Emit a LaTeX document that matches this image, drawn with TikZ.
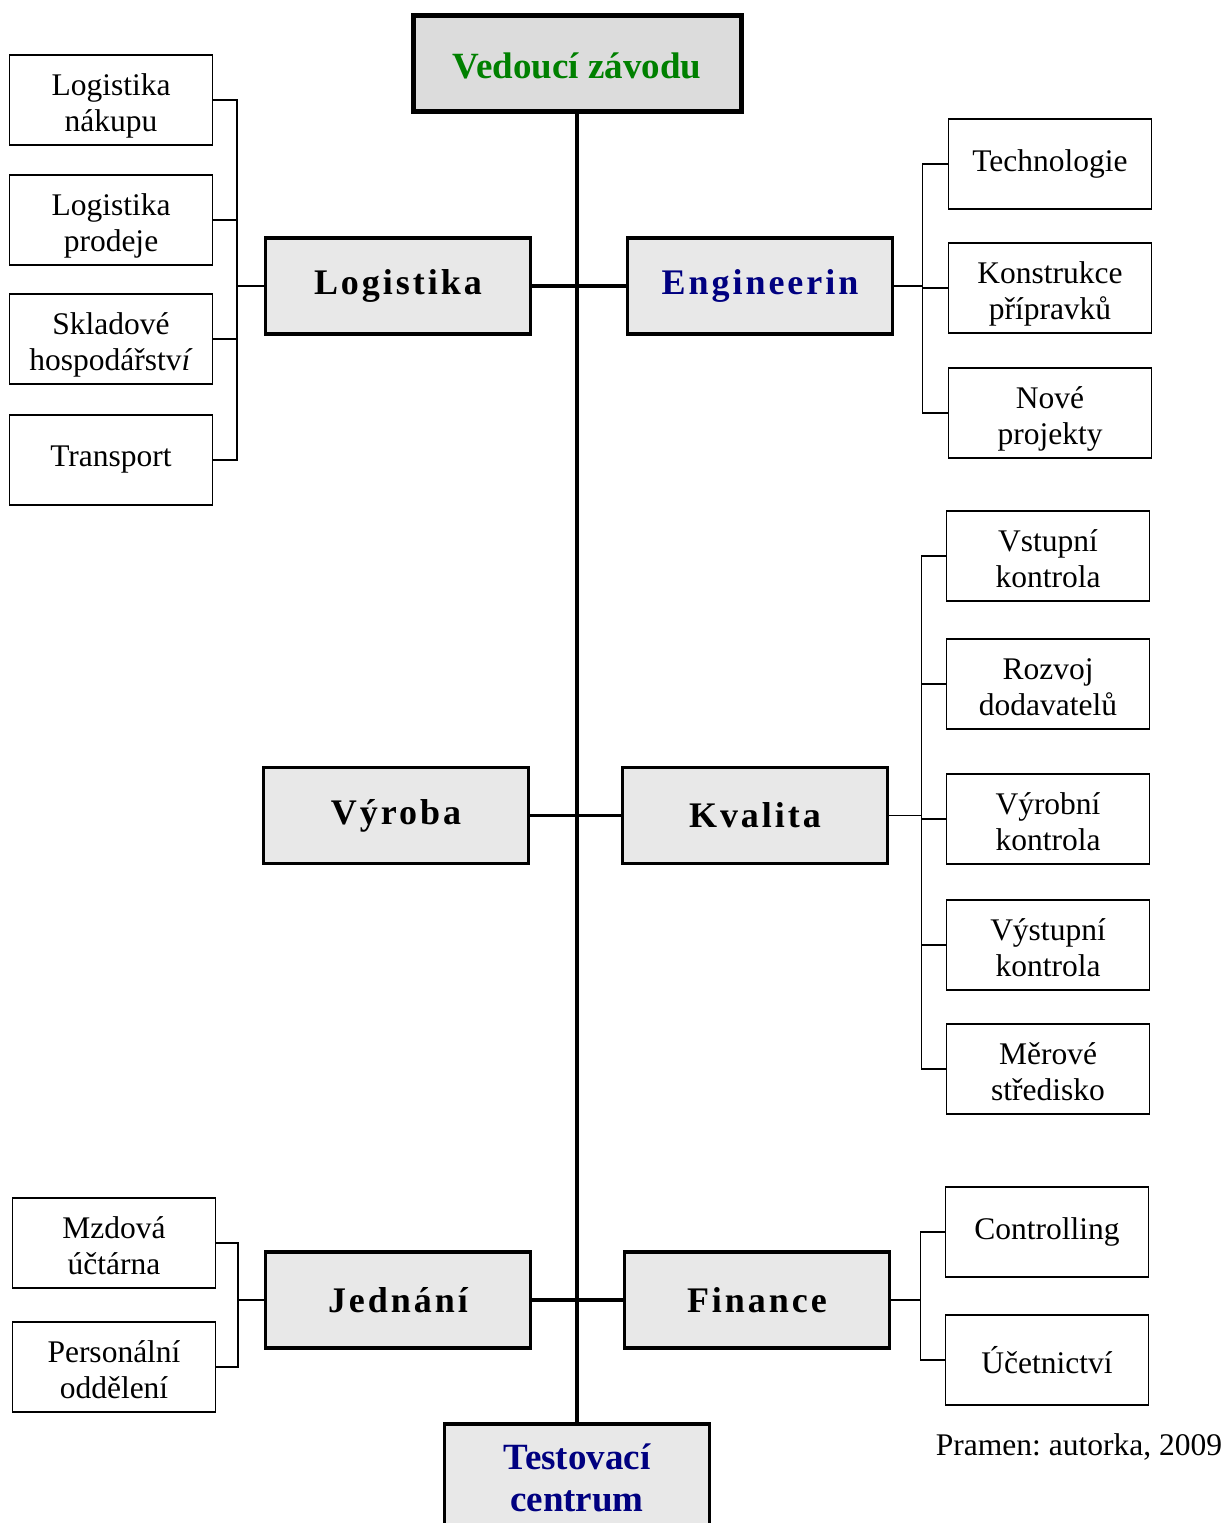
\documentclass[tikz,border=0pt]{standalone}
\usepackage{fontspec}
\setmainfont{Liberation Serif}
\newfontfamily\spacedfont[LetterSpace=8.3]{Liberation Serif}
\usepackage{tikz}
\usetikzlibrary{positioning,calc}
\definecolor{topgray}{HTML}{DCDCDC}
\definecolor{deptgray}{HTML}{E8E8E8}
\definecolor{bossgreen}{HTML}{008000}
\definecolor{deptnavy}{HTML}{000080}
\frenchspacing

\begin{document}
\begin{tikzpicture}[x=0.5pt,y=-0.5pt,
  boss/.style={
    draw, line width=2.5pt, fill=topgray, inner sep=0pt,
    minimum width=164pt, minimum height=48pt,
    text height=16pt, text depth=0.5pt,
    font=\fontsize{18.5}{21}\selectfont\bfseries, text=bossgreen
  },
  dept/.style={
    draw, line width=1.75pt, fill=deptgray, inner sep=0pt,
    minimum width=132.5pt, minimum height=48pt,
    font=\spacedfont\fontsize{18}{21}\selectfont\bfseries
  },
  sub/.style={
    draw, line width=0.75pt, inner sep=0pt, align=center,
    minimum width=101.5pt, minimum height=45pt,
    font=\fontsize{15.75}{18}\selectfont
  },
  sub2/.style={sub, text height=31.5pt, text depth=0pt},
  trunk/.style={line width=2pt},
  link/.style={line width=1.75pt},
  branch/.style={line width=0.75pt},
]
\clip (0,0) rectangle (1227,1523);
% head and main departments
\node[boss] (top) at (577,63) {Vedoucí závodu};
\node[dept] (logist) at (398,286) {Logistika};
\node[dept,text=deptnavy] (engin) at (760,286) {Engineerin};
\node[dept] (vyroba) at (396,815.5) {Výroba};
\node[dept] (kval) at (755,815.5) {Kvalita};
\node[dept] (jedn) at (398,1300) {Jednání};
\node[dept] (fin) at (757,1300) {Finance};
\node[dept,align=center,text=deptnavy,minimum height=54pt,
  font=\fontsize{18.5}{21}\selectfont\bfseries] (test) at (577,1478)
  {Testovací\\centrum};

\draw[trunk] (top.south) -- (test.north);
\draw[link] (logist.east) -- (engin.west);
\draw[link] (vyroba.east) -- (kval.west);
\draw[link] (jedn.east) -- (fin.west);

% sub-units
\foreach \n/\y/\t in {lnak/100/{Logistika\\nákupu},lpro/220/{Logistika\\prodeje},
  sklad/339/{Skladové\\hospodářstv\textit{í}}}
  \node[sub2] (\n) at (111,\y) {\t};
\node[sub] (transp) at (111,460) {Transport};
\node[sub] (tech) at (1050,164) {Technologie};
\foreach \n/\y/\t in {konstr/288/{Konstrukce\\přípravků},nove/413/{Nové\\projekty}}
  \node[sub2] (\n) at (1050,\y) {\t};
\foreach \n/\y/\t in {vstup/556/{Vstupní\\kontrola},rozvoj/684/{Rozvoj\\dodavatelů},
  vyrk/819/{Výrobní\\kontrola},vystup/945/{Výstupní\\kontrola},
  merove/1069/{Měrové\\středisko}}
  \node[sub2] (\n) at (1048,\y) {\t};
\foreach \n/\y/\t in {mzdy/1243/{Mzdová\\účtárna},person/1367/{Personální\\oddělení}}
  \node[sub2] (\n) at (114,\y) {\t};
\foreach \n/\y/\t in {contr/1232/Controlling,ucet/1360/Účetnictví}
  \node[sub] (\n) at (1047,\y) {\t};

% brackets
\path (logist.west) ++(-27,0) coordinate (lbr);
\path (engin.east) ++(28,0) coordinate (ebr);
\path (kval.east) ++(32,0) coordinate (kbr);
\path (jedn.west) ++(-26,0) coordinate (jbr);
\path (fin.east) ++(29,0) coordinate (fbr);
\draw[branch] (logist.west) -- (lbr);
\draw[branch] (engin.east) -- (ebr);
\draw[branch] (kval.east) -- (kbr);
\draw[branch] (jedn.west) -- (jbr);
\draw[branch] (fin.east) -- (fbr);
\foreach \c in {lnak,lpro,sklad,transp} \draw[branch] (\c.east) -| (lbr);
\foreach \c in {tech,konstr,nove} \draw[branch] (\c.west) -| (ebr);
\foreach \c in {vstup,rozvoj,vyrk,vystup,merove} \draw[branch] (\c.west) -| (kbr);
\foreach \c in {mzdy,person} \draw[branch] (\c.east) -| (jbr);
\foreach \c in {contr,ucet} \draw[branch] (\c.west) -| (fbr);

\node[font=\fontsize{15.75}{18}\selectfont] (src) at (1079,1447) {Pramen: autorka, 2009};
\end{tikzpicture}
\end{document}
